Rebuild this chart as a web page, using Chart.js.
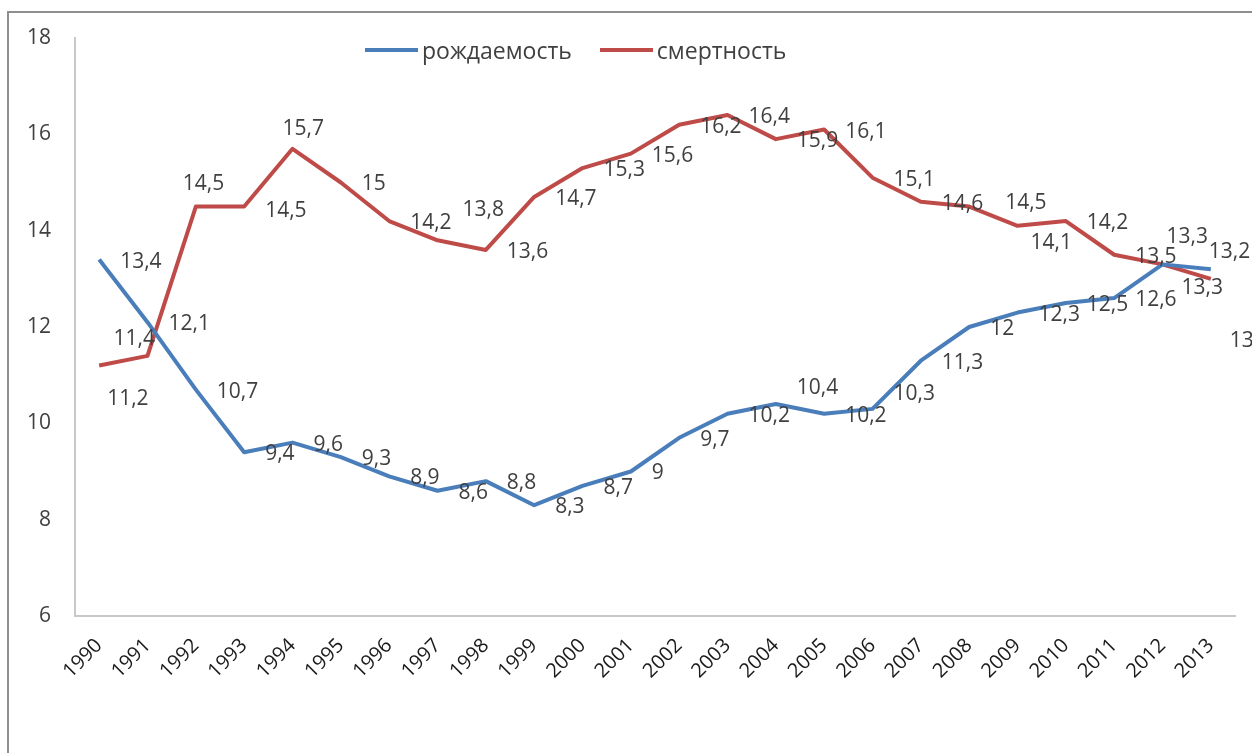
<!DOCTYPE html>
<html>
<head>
<meta charset="utf-8">
<script src="https://cdn.jsdelivr.net/npm/chart.js@4"></script>
<style>
  body { margin: 0; background: #fff; }
  #wrap { position: relative; width: 1252px; height: 753px; overflow: hidden; }
  #frame { position: absolute; left: 7px; top: 11px; width: 1400px; height: 900px;
           border-top: 2px solid #8e8e8e; border-left: 2px solid #8e8e8e; }
  #legend { position: absolute; left: 365px; top: 34px; display: flex; align-items: center;
            font-family: "Open Sans", sans-serif; font-size: 23px; color: #404040; }
  .item { display: flex; align-items: center; margin-right: 28px; }
  .swatch { width: 53px; height: 4px; margin-right: 4px; }
  canvas { position: absolute; left: 0; top: 0; }
</style>
</head>
<body>
<div id="wrap">
  <div id="frame"></div>
  <canvas id="chart" width="1252" height="753"></canvas>
  <div id="legend"></div>
</div>
<script>

const years = ["1990","1991","1992","1993","1994","1995","1996","1997","1998","1999","2000","2001",
               "2002","2003","2004","2005","2006","2007","2008","2009","2010","2011","2012","2013"];

const birthRate = [13.4, 12.1, 10.7, 9.4, 9.6, 9.3, 8.9, 8.6, 8.8, 8.3, 8.7, 9,
                   9.7, 10.2, 10.4, 10.2, 10.3, 11.3, 12, 12.3, 12.5, 12.6, 13.3, 13.2];

const deathRate = [11.2, 11.4, 14.5, 14.5, 15.7, 15, 14.2, 13.8, 13.6, 14.7, 15.3, 15.6,
                   16.2, 16.4, 15.9, 16.1, 15.1, 14.6, 14.5, 14.1, 14.2, 13.5, 13.3, 13];

const seriesNames = ["рождаемость", "смертность"];
const seriesColors = ["#4a7ebb", "#be4b48"];

const yTicks = [6, 8, 10, 12, 14, 16, 18];


// label nudges (Excel moved some of them by hand)
const labelNudge = [
  { 14: [21, -16], 16: [21, -15], 22: [19, 24], 23: [-2, -17] },
  { 0: [8, 33], 1: [-34, -17], 2: [-13, -23], 3: [21, 4], 4: [-10, -20], 7: [25, -30],
    18: [36, -4], 19: [13, 17], 22: [4, -27], 23: [19, 62] }
];

const fmt = v => String(v).replace(".", ",");


/* LEGEND */
const legend = document.getElementById("legend");
seriesNames.forEach((name, i) => {
  legend.innerHTML += `<div class="item"><span class="swatch" style="background:${seriesColors[i]}"></span>${name}</div>`;
});


/* DATA LABELS */
const valueLabels = {
  id: "valueLabels",
  afterDatasetsDraw(chart) {
    const ctx = chart.ctx;
    ctx.save();
    ctx.font = "21px 'Open Sans', sans-serif";
    ctx.fillStyle = "#404040";
    ctx.textAlign = "left";
    ctx.textBaseline = "middle";
    chart.data.datasets.forEach((ds, d) => {
      chart.getDatasetMeta(d).data.forEach((pt, i) => {
        const n = labelNudge[d][i] || [21, 2];
        ctx.fillText(fmt(ds.data[i]), pt.x + n[0], pt.y + n[1]);
      });
    });
    ctx.restore();
  }
};


new Chart(document.getElementById("chart"), {

  type: "line",

  data: {
    labels: years,
    datasets: [
      { label: seriesNames[0], data: birthRate, borderColor: seriesColors[0] },
      { label: seriesNames[1], data: deathRate, borderColor: seriesColors[1] }
    ]
  },

  options: {
    responsive: false,
    animation: false,
    devicePixelRatio: 1,
    layout: { padding: { left: 0, top: 38, right: 17, bottom: 0 } },
    elements: {
      line: { borderWidth: 4, tension: 0, borderJoinStyle: "round" },
      point: { radius: 0 }
    },
    plugins: {
      legend: { display: false },
      tooltip: { enabled: false }
    },
    scales: {
      x: {
        offset: true,
        grid: { display: false, drawTicks: false },
        border: { color: "#c8c8c8", width: 2 },
        ticks: {
          maxRotation: 45, minRotation: 45, autoSkip: false, padding: 18,
          color: "#1a1a1a", font: { family: "'Open Sans', sans-serif", size: 20 }
        },
        afterFit: s => { s.height = 137; }
      },
      y: {
        min: 6, max: 18,
        afterBuildTicks: s => { s.ticks = yTicks.map(v => ({ value: v })); },
        grid: { display: false, drawTicks: false },
        border: { color: "#c8c8c8", width: 2 },
        ticks: {
          padding: 24, color: "#404040",
          font: { family: "'Open Sans', sans-serif", size: 21 }
        },
        afterFit: s => { s.width = 75; }
      }
    }
  },

  plugins: [valueLabels]

});

</script>
</body>
</html>
